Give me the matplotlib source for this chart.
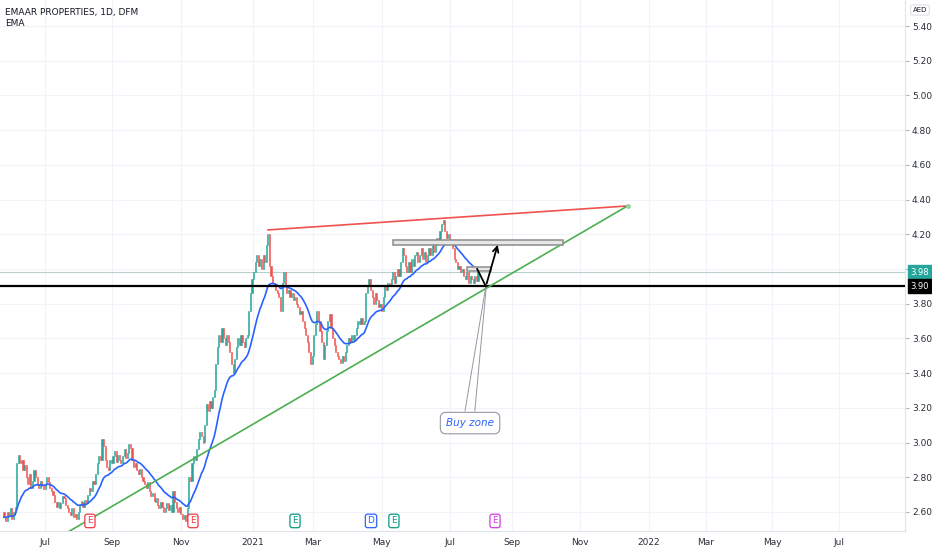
import numpy as np
import pandas as pd
import matplotlib
matplotlib.use("Agg")
import matplotlib.pyplot as plt
from matplotlib.patches import Rectangle

plt.rcParams['font.family'] = ['Liberation Sans Narrow', 'DejaVu Sans']

# daily closes of EMAAR PROPERTIES (DFM), June 2020 - July 2021
closes = [
    2.57, 2.55, 2.60, 2.58, 2.62, 2.56, 2.60, 2.63, 2.88, 2.93,
    2.88, 2.90, 2.84, 2.87, 2.80, 2.76, 2.82, 2.74, 2.78, 2.84, 2.80, 2.76,
    2.74, 2.78, 2.75, 2.73, 2.76, 2.80, 2.77, 2.74,
    2.72, 2.70, 2.66, 2.63, 2.66, 2.62, 2.65, 2.69, 2.68, 2.64,
    2.62, 2.60, 2.58, 2.62, 2.57, 2.59, 2.56, 2.60,
    2.64, 2.66, 2.63, 2.67, 2.65, 2.70, 2.74, 2.72, 2.78, 2.76, 2.82,
    2.88, 2.92, 2.90, 3.02, 2.98, 2.90, 2.86, 2.84, 2.90, 2.88,
    2.92, 2.95, 2.89, 2.93, 2.90, 2.88, 2.92, 2.96, 2.91, 2.94, 2.99,
    2.97, 2.90, 2.86, 2.88, 2.84, 2.82, 2.85,
    2.80, 2.78, 2.76, 2.74, 2.77, 2.72, 2.69, 2.71, 2.66, 2.68,
    2.64, 2.62, 2.66, 2.63, 2.60, 2.62, 2.65, 2.61, 2.64, 2.60, 2.72,
    2.66, 2.62, 2.60, 2.63, 2.59, 2.56, 2.58, 2.55, 2.62,
    2.80, 2.78, 2.88, 2.92, 2.90, 2.96, 3.02, 3.06, 3.04,
    3.00, 3.10, 3.22, 3.18, 3.24, 3.20, 3.26, 3.30, 3.45, 3.55,
    3.62, 3.58, 3.66, 3.60, 3.56, 3.62, 3.58, 3.52, 3.45, 3.40, 3.48,
    3.55, 3.60, 3.56, 3.62, 3.58, 3.55, 3.60, 3.62,
    3.76, 3.86, 3.94, 3.98, 4.04, 4.08, 4.02, 4.06, 4.00, 4.08,
    4.04, 4.14, 4.20, 4.02, 3.96, 3.92, 3.90, 3.88, 3.86, 3.84,
    3.76, 3.92, 3.98, 3.90, 3.86, 3.88, 3.84, 3.86,
    3.82, 3.84, 3.80, 3.78, 3.74, 3.76, 3.70, 3.66, 3.62,
    3.58, 3.52, 3.45, 3.50, 3.62, 3.68, 3.76, 3.70,
    3.64, 3.58, 3.48, 3.56, 3.64, 3.70, 3.74,
    3.66, 3.60, 3.56, 3.52, 3.50, 3.48, 3.46, 3.50, 3.47,
    3.52, 3.56, 3.60, 3.58, 3.62, 3.59, 3.62, 3.66, 3.70, 3.68,
    3.72, 3.68, 3.70, 3.86, 3.90, 3.94, 3.88, 3.84, 3.80, 3.86,
    3.82, 3.78, 3.80, 3.76, 3.84, 3.90, 3.88, 3.92, 3.90,
    3.94, 3.98, 3.92, 3.96, 4.00, 3.96, 4.04, 4.12,
    4.08, 4.02, 3.98, 4.04, 3.98, 4.06, 4.02, 4.08,
    4.10, 4.04, 4.08, 4.12, 4.06, 4.10, 4.04, 4.08,
    4.12, 4.08, 4.14, 4.10, 4.14, 4.18, 4.16,
    4.22, 4.26, 4.28, 4.22, 4.18, 4.20, 4.15, 4.16,
    4.12, 4.06, 4.04, 4.00, 4.02, 3.98, 4.00, 3.96,
    3.94, 3.98, 3.92, 3.96, 3.94, 3.92, 3.96, 3.93, 3.98,
]
first_open = 2.60

month_labels = ["Jul", "Sep", "Nov", "2021", "Mar", "May", "Jul",
                "Sep", "Nov", "2022", "Mar", "May", "Jul"]
month_bars = [25.9, 68.4, 112.0, 157.6, 195.6, 239.2, 282.3,
              321.5, 364.6, 408.2, 444.3, 486.1, 528.5]
price_ticks = [2.60, 2.80, 3.00, 3.20, 3.40, 3.60, 3.80, 4.00,
               4.20, 4.40, 4.60, 4.80, 5.00, 5.20, 5.40]

# chart drawings (bar index, price)
support_level = 3.90
last_price = 3.98
red_line = [(167.1, 4.225), (394.3, 4.363)]
green_line = [(35.0, 2.455), (395.0, 4.365)]
big_box = (246, 354, 4.14, 4.165)
small_box = (293, 308, 3.99, 4.01)
v_path = [(299.5, 4.00), (305.0, 3.90), (313.0, 4.155)]
events = [(54.4, "E", "#f23645"), (119.6, "E", "#f23645"), (184.2, "E", "#089981"),
          (232.3, "D", "#2962ff"), (246.8, "E", "#089981"), (310.8, "E", "#d33fe0")]

GREEN = "#26a69a"
RED = "#ef5350"

closes = np.array(closes)
opens = np.concatenate([[first_open], closes[:-1]])
x = np.arange(len(closes))
ema = pd.Series(closes).ewm(span=20, adjust=False).mean()

fig = plt.figure(figsize=(9.32, 5.5), dpi=100)
ax = fig.add_axes([0, 19 / 550, 905 / 932, 531 / 550])
ax.set_xlim(-2.53, 570.3)
ax.set_ylim(2.49, 5.55)

ax.set_yticks(price_ticks)
ax.set_yticklabels(["%.2f" % p for p in price_ticks])
ax.yaxis.tick_right()
ax.set_xticks(month_bars)
ax.set_xticklabels(month_labels)
ax.tick_params(axis="y", labelsize=6.5, colors="#b2b5be", labelcolor="#2a2e39", length=3, pad=2)
ax.tick_params(axis="x", labelsize=6.5, length=0, labelcolor="#2a2e39", pad=5)
ax.grid(True, color="#f0f3fa", lw=0.8)
ax.set_axisbelow(True)
for s in ["top", "left"]:
    ax.spines[s].set_visible(False)
for s in ["right", "bottom"]:
    ax.spines[s].set_color("#e0e3eb")

# candles
up = closes >= opens
colors = np.where(up, GREEN, RED)
body = closes - opens
ax.bar(x, body, bottom=opens, width=0.7, color=colors, edgecolor=colors, lw=0.4, zorder=3)

ax.plot(x, ema, color="#2962ff", lw=1.2, zorder=4)

# levels
ax.axhline(last_price, color="#b7cfcc", lw=0.8, zorder=2)
ax.axhline(support_level, color="black", lw=1.6, zorder=5)

# trend lines
ax.plot(*zip(*red_line), color="#f0524f", lw=1.2, zorder=5)
ax.plot(*zip(*green_line), color="#4caf50", lw=1.2, zorder=5)
ax.plot(*green_line[1], marker="o", ms=2.5, color="#9bd19e", zorder=6)

for x0, x1, lo, hi in [big_box, small_box]:
    ax.add_patch(Rectangle((x0, lo), x1 - x0, hi - lo, facecolor="#e6e6e6",
                           edgecolor="#8c8c8c", lw=1.1, zorder=6))

vx, vy = zip(*v_path)
ax.plot(vx[:2], vy[:2], color="black", lw=1.3, zorder=7)
ax.annotate("", xy=v_path[2], xytext=v_path[1],
            arrowprops=dict(arrowstyle="->", color="black", lw=1.3, mutation_scale=10), zorder=7)

# callout
ax.plot([291.8, 305.0], [3.182, 3.90], color="#9598a1", lw=0.7, zorder=6)
ax.plot([298.0, 305.3], [3.182, 3.90], color="#9598a1", lw=0.7, zorder=6)
ax.text(295, 3.112, "Buy zone", fontsize=7.5, style="italic", color="#2962ff",
        ha="center", va="center", zorder=8,
        bbox=dict(boxstyle="round,pad=0.55", fc="white", ec="#9598a1", lw=0.8))

# earnings / dividends
for ex, lab, col in events:
    ax.text(ex, 2.548, lab, fontsize=6.5, color=col, ha="center", va="center", zorder=8,
            bbox=dict(boxstyle="round,pad=0.25", fc="white", ec=col, lw=0.9))

# price labels on the axis
trans = ax.get_yaxis_transform()
for level, col in [(last_price, GREEN), (support_level, "black")]:
    ax.text(1.0 + 5 / 905, level, "%.2f" % level, transform=trans, fontsize=6, color="white",
            ha="left", va="center", clip_on=False, zorder=10,
            bbox=dict(boxstyle="square,pad=0.3", fc=col, ec=col))

fig.text(5 / 932, 1 - 12 / 550, "EMAAR PROPERTIES, 1D, DFM", fontsize=6.5, color="#131722", va="center")
fig.text(5 / 932, 1 - 24 / 550, "EMA", fontsize=6.5, color="#131722", va="center")
fig.text(920 / 932, 1 - 10 / 550, "AED", fontsize=5, color="#131722", ha="center", va="center",
         bbox=dict(boxstyle="round,pad=0.3", fc="white", ec="#d1d4dc", lw=0.6))

fig.savefig("out.png", dpi=100)
